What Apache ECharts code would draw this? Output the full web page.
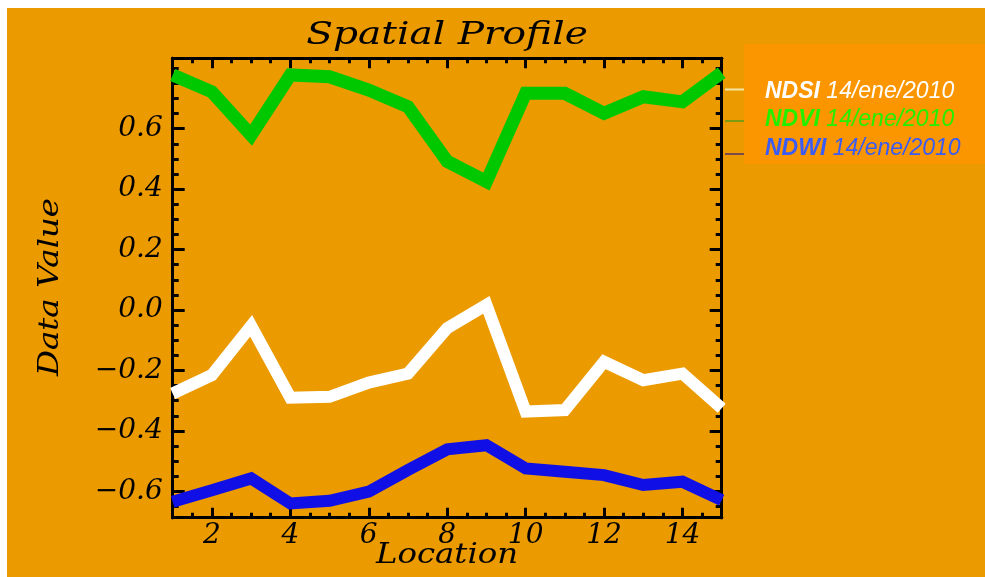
<!DOCTYPE html>
<html>
<head>
<meta charset="utf-8">
<title>Spatial Profile</title>
<script src="https://cdn.jsdelivr.net/npm/echarts@6/dist/echarts.min.js"></script>
<style>
  html, body { margin: 0; padding: 0; background: #ffffff; }
  #chart { width: 985px; height: 577px; }
</style>
</head>
<body>
<div id="chart"></div>
<script>
// Profile samples along the transect (location index 1..15)
const locations = [1, 2, 3, 4, 5, 6, 7, 8, 9, 10, 11, 12, 13, 14, 15];
const ndsi = [-0.276, -0.215, -0.052, -0.290, -0.287, -0.240, -0.210, -0.060, 0.017, -0.336, -0.331, -0.171, -0.232, -0.210, -0.325];
const ndvi = [0.778, 0.722, 0.579, 0.778, 0.772, 0.728, 0.673, 0.492, 0.425, 0.717, 0.717, 0.651, 0.706, 0.689, 0.785];
const ndwi = [-0.634, -0.596, -0.557, -0.640, -0.631, -0.601, -0.529, -0.461, -0.447, -0.524, -0.535, -0.546, -0.579, -0.568, -0.629];

// Axis ranges and tick positions
const xRange = [1, 15];
const yRange = [-0.687, 0.833];
const xMajorTicks = [2, 4, 6, 8, 10, 12, 14];
const yMajorTicks = [-0.6, -0.4, -0.2, 0.0, 0.2, 0.4, 0.6];

// Legend entries
const legendNames = ['NDSI', 'NDVI', 'NDWI'];
const legendDate = '14/ene/2010';

// Minor ticks: x every 0.5, y every 0.05 (skipping the major positions)
const xMinorTicks = [];
for (let i = 2; i <= 30; i++) { const v = i / 2; if (!xMajorTicks.includes(v) && v > xRange[0] && v < xRange[1]) xMinorTicks.push(v); }
const yMinorTicks = [];
for (let i = -13; i <= 16; i++) { const v = Math.round(i * 5) / 100; if (!yMajorTicks.some(m => Math.abs(m - v) < 1e-9) && v > yRange[0] && v < yRange[1]) yMinorTicks.push(v); }

const SERIF = '"DejaVu Serif", "Liberation Serif", serif';
const SANS = '"Liberation Sans", Arial, sans-serif';
const BLACK = '#000000';

function fmt(v) {
  const s = Math.abs(v).toFixed(1);
  return v < -1e-9 ? '\u2212' + s : s;
}

function xAxisDef(position, ticks, len, withLabels) {
  return {
    type: 'value', min: xRange[0], max: xRange[1], position: position,
    axisLine: { show: true, onZero: false, lineStyle: { color: BLACK, width: 3 } },
    axisTick: { show: true, inside: true, length: len, customValues: ticks, lineStyle: { color: BLACK, width: 3 } },
    axisLabel: withLabels ? {
      show: true, customValues: ticks, margin: 4, color: BLACK,
      fontFamily: SERIF, fontStyle: 'italic', fontSize: 28, formatter: v => String(v)
    } : { show: false },
    splitLine: { show: false }
  };
}

function yAxisDef(position, ticks, len, withLabels) {
  return {
    type: 'value', min: yRange[0], max: yRange[1], position: position,
    axisLine: { show: true, onZero: false, lineStyle: { color: BLACK, width: 3 } },
    axisTick: { show: true, inside: true, length: len, customValues: ticks, lineStyle: { color: BLACK, width: 3 } },
    axisLabel: withLabels ? {
      show: true, customValues: ticks, margin: 10, color: BLACK,
      fontFamily: SERIF, fontStyle: 'italic', fontSize: 28, formatter: fmt
    } : { show: false },
    splitLine: { show: false }
  };
}

function lineSeries(name, values, color, width) {
  return {
    name: name, type: 'line', xAxisIndex: 0, yAxisIndex: 0,
    data: locations.map((x, i) => [x, values[i]]),
    symbol: 'none', clip: false, z: 5,
    lineStyle: { color: color, width: width, cap: 'butt', join: 'miter' }
  };
}

const chart = echarts.init(document.getElementById('chart'), null, { renderer: 'canvas' });

const legendColors = ['#FFFFFF', '#22F000', '#3A5CF5'];
const legendRows = [92, 120, 149];
const legendLineColors = ['#F4E7A6', '#7E9A12', '#7A4A4E'];
const legendLineRows = [89.5, 121, 154];

const graphics = [
  // orange canvas with a thin white margin on the left and top
  { type: 'rect', z: -100, shape: { x: 7, y: 8, width: 985 - 7, height: 577 - 8 }, style: { fill: '#EB9A00' } },
  // title and axis titles
  { type: 'text', x: 447, y: 36, scaleX: 1.26, style: { text: 'Spatial Profile', font: 'italic 31px ' + SERIF, fill: BLACK, textAlign: 'center', textVerticalAlign: 'middle' } },
  { type: 'text', x: 447, y: 556, scaleX: 1.2, style: { text: 'Location', font: 'italic 27px ' + SERIF, fill: BLACK, textAlign: 'center', textVerticalAlign: 'middle' } },
  { type: 'text', x: 51, y: 287, rotation: Math.PI / 2, scaleX: 1.2, style: { text: 'Data Value', font: 'italic 27px ' + SERIF, fill: BLACK, textAlign: 'center', textVerticalAlign: 'middle' } }
];

// short legend line samples peeking out from behind the legend box
legendLineRows.forEach((y, i) => {
  graphics.push({ type: 'line', z: 20, shape: { x1: 725, y1: y, x2: 746, y2: y }, style: { stroke: legendLineColors[i], lineWidth: 2 } });
});

// legend box
graphics.push({ type: 'rect', z: 30, shape: { x: 744, y: 44, width: 985 - 744, height: 120 }, style: { fill: '#FC9600' } });

legendNames.forEach((name, i) => {
  graphics.push({
    type: 'text', z: 31, x: 765, y: legendRows[i],
    style: {
      text: '{b|' + name + ' }{r|' + legendDate + '}',
      textVerticalAlign: 'middle', fill: legendColors[i],
      rich: {
        b: { fontFamily: SANS, fontStyle: 'italic', fontWeight: 'bold', fontSize: 23, fill: legendColors[i], color: legendColors[i] },
        r: { fontFamily: SANS, fontStyle: 'italic', fontWeight: 'normal', fontSize: 23, fill: legendColors[i], color: legendColors[i] }
      }
    }
  });
});

// the legend text area is cut off at its lower edge
graphics.push({ type: 'rect', z: 32, shape: { x: 744, y: 155, width: 985 - 744, height: 9 }, style: { fill: '#FC9600' } });

chart.setOption({
  animation: false,
  backgroundColor: '#FFFFFF',
  grid: { left: 172.7, top: 58.3, right: 985 - 721.7, bottom: 577 - 517.7, containLabel: false },
  xAxis: [
    xAxisDef('bottom', xMajorTicks, 10, true),
    xAxisDef('bottom', xMinorTicks, 5, false),
    xAxisDef('top', xMajorTicks, 10, false),
    xAxisDef('top', xMinorTicks, 5, false)
  ],
  yAxis: [
    yAxisDef('left', yMajorTicks, 12, true),
    yAxisDef('left', yMinorTicks, 6, false),
    yAxisDef('right', yMajorTicks, 12, false),
    yAxisDef('right', yMinorTicks, 6, false)
  ],
  series: [
    lineSeries('NDSI', ndsi, '#FFFFFF', 12),
    lineSeries('NDVI', ndvi, '#00C800', 13),
    lineSeries('NDWI', ndwi, '#1010E6', 12)
  ],
  graphic: graphics
});
</script>
</body>
</html>
